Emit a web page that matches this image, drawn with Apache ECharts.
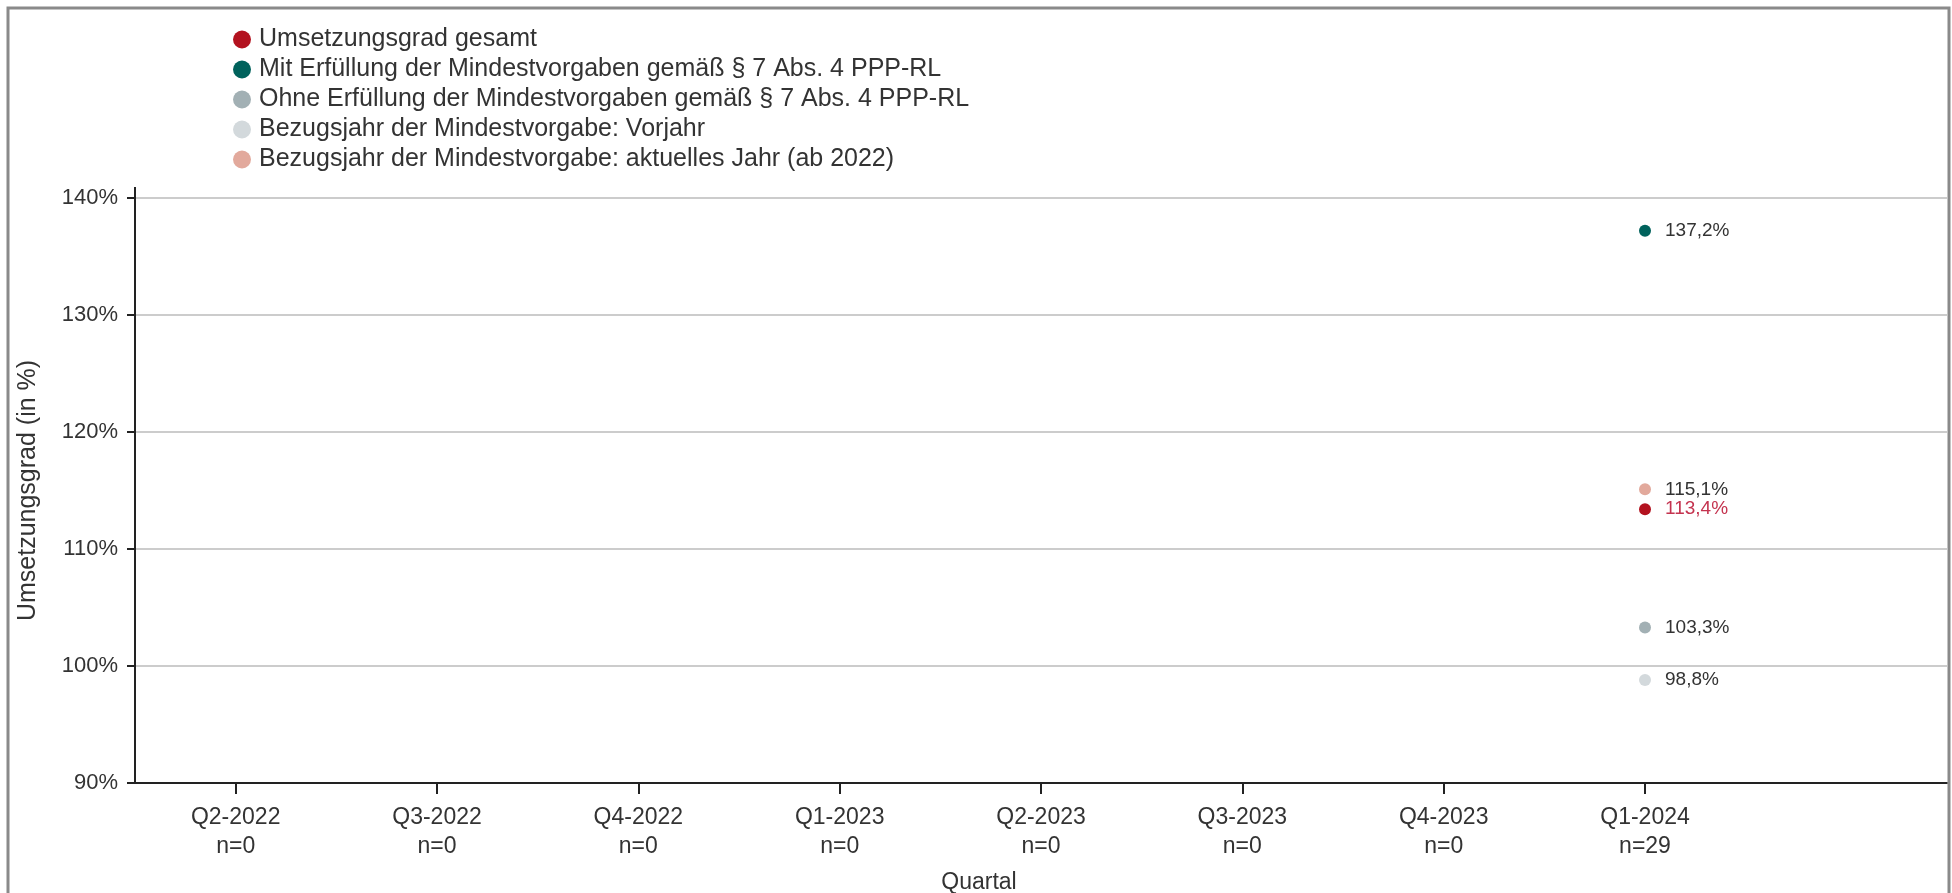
<!DOCTYPE html>
<html>
<head>
<meta charset="utf-8">
<script src="https://cdn.jsdelivr.net/npm/echarts@6/dist/echarts.min.js"></script>
<style>
html,body{margin:0;padding:0;background:#fff;}
#chart{width:1952px;height:893px;}
</style>
</head>
<body>
<div id="chart"></div>
<script>
// ---- data ----
const quarters = ['Q2-2022','Q3-2022','Q4-2022','Q1-2023','Q2-2023','Q3-2023','Q4-2023','Q1-2024',''];
const counts   = [0, 0, 0, 0, 0, 0, 0, 29, null];
const yTicks   = [90, 100, 110, 120, 130, 140];

const seriesNames = [
  'Umsetzungsgrad gesamt',
  'Mit Erfüllung der Mindestvorgaben gemäß § 7 Abs. 4 PPP-RL',
  'Ohne Erfüllung der Mindestvorgaben gemäß § 7 Abs. 4 PPP-RL',
  'Bezugsjahr der Mindestvorgabe: Vorjahr',
  'Bezugsjahr der Mindestvorgabe: aktuelles Jahr (ab 2022)'
];
const gesamt      = [null, null, null, null, null, null, null, 113.4, null];
const mitErf      = [null, null, null, null, null, null, null, 137.2, null];
const ohneErf     = [null, null, null, null, null, null, null, 103.3, null];
const vorjahr     = [null, null, null, null, null, null, null, 98.8, null];
const aktuelles   = [null, null, null, null, null, null, null, 115.1, null];

const colors = ['#b3121f', '#00625c', '#a2b0b4', '#d3d9dc', '#e2a99c'];
const labelColors = ['#c4334f', '#333333', '#333333', '#333333', '#333333'];
const FONT = '"Liberation Sans", Arial, sans-serif';

const catLabels = quarters.map((q, i) => q === '' ? '' : q + '\n' + 'n=' + counts[i]);
const dataSets = [gesamt, mitErf, ohneErf, vorjahr, aktuelles];

function fmt(v) { return v.toFixed(1).replace('.', ',') + '%'; }

const chart = echarts.init(document.getElementById('chart'), null, {renderer: 'canvas'});

const series = dataSets.map((d, k) => ({
  name: seriesNames[k],
  type: 'scatter',
  data: d,
  symbol: 'circle',
  symbolSize: 12,
  itemStyle: {color: colors[k], opacity: 1},
  z: k === 0 ? 5 : 3,
  label: {
    show: true,
    position: 'right',
    distance: 14,
    fontFamily: FONT,
    fontSize: 19,
    color: labelColors[k],
    formatter: p => p.value == null ? '' : fmt(p.value)
  },
  emphasis: {disabled: true}
}));

chart.setOption({
  animation: false,
  backgroundColor: '#ffffff',
  textStyle: {fontFamily: FONT},
  legend: {
    orient: 'vertical',
    left: 228,
    top: 22,
    icon: 'circle',
    itemWidth: 18,
    itemHeight: 18,
    itemGap: 5,
    selectedMode: false,
    data: seriesNames,
    textStyle: {fontFamily: FONT, fontSize: 25, color: '#333333', padding: [0, 0, 0, 3]}
  },
  grid: {left: 135, right: 5, top: 198, bottom: 110, containLabel: false, outerBoundsMode: 'none'},
  xAxis: {
    type: 'category',
    data: catLabels,
    boundaryGap: true,
    name: 'Quartal',
    nameLocation: 'middle',
    nameGap: 88,
    nameTextStyle: {fontFamily: FONT, fontSize: 23, color: '#333333', padding: [0, 124, 0, 0]},
    axisLine: {show: true, lineStyle: {color: '#222222', width: 2}},
    axisTick: {show: true, alignWithLabel: true, length: 11, lineStyle: {color: '#222222', width: 2},
      interval: (i, v) => v !== ''},
    axisLabel: {fontFamily: FONT, fontSize: 23, color: '#333333', lineHeight: 29, margin: 20, interval: 0},
    splitLine: {show: false}
  },
  yAxis: {
    type: 'value',
    min: yTicks[0],
    max: yTicks[yTicks.length - 1],
    interval: 10,
    name: 'Umsetzungsgrad (in %)',
    nameLocation: 'middle',
    nameGap: 94,
    nameTextStyle: {fontFamily: FONT, fontSize: 25, color: '#333333'},
    axisLine: {show: true, lineStyle: {color: '#222222', width: 2}},
    axisTick: {show: true, length: 8, lineStyle: {color: '#222222', width: 2}},
    axisLabel: {fontFamily: FONT, fontSize: 22, color: '#333333', margin: 17, formatter: '{value}%'},
    splitLine: {show: true, lineStyle: {color: '#cccccc', width: 2}}
  },
  graphic: [{
    type: 'rect',
    shape: {x: 8, y: 8, width: 1941, height: 920},
    style: {fill: 'none', stroke: '#8a8a8a', lineWidth: 3},
    silent: true,
    z: 100
  }, {
    type: 'line',
    shape: {x1: 135, y1: 187, x2: 135, y2: 199},
    style: {stroke: '#222222', lineWidth: 2},
    silent: true,
    z: 50
  }],
  series: series
});
</script>
</body>
</html>
